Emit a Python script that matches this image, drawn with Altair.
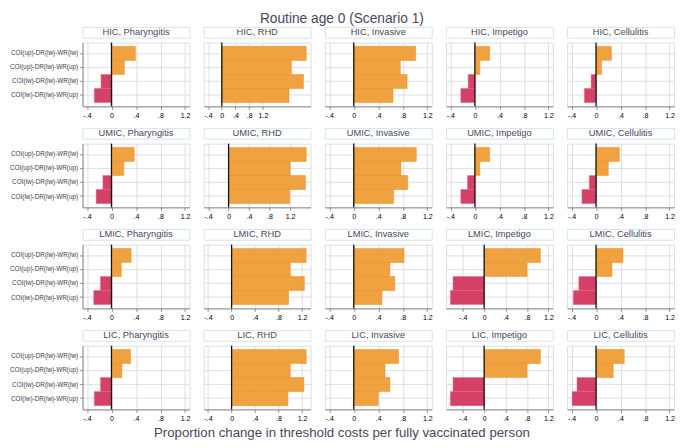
import altair as alt
import pandas as pd

regions = ["HIC", "UMIC", "LMIC", "LIC"]
conditions = ["Pharyngitis", "RHD", "Invasive", "Impetigo", "Cellulitis"]
scenarios = [
    "COI(up)-DR(lw)-WR(lw)",
    "COI(up)-DR(lw)-WR(up)",
    "COI(lw)-DR(lw)-WR(lw)",
    "COI(lw)-DR(lw)-WR(up)",
]
x_ticks = [-0.4, 0.0, 0.4, 0.8, 1.2]

hic_values = {
    "Pharyngitis": [0.39, 0.21, -0.17, -0.28],
    "RHD": [2.46, 2.03, 2.38, 1.96],
    "Invasive": [1.01, 0.76, 0.87, 0.64],
    "Impetigo": [0.24, 0.08, -0.11, -0.23],
    "Cellulitis": [0.25, 0.09, -0.08, -0.19],
}
umic_values = {
    "Pharyngitis": [0.37, 0.20, -0.14, -0.25],
    "RHD": [1.515, 1.20, 1.50, 1.19],
    "Invasive": [1.02, 0.77, 0.88, 0.65],
    "Impetigo": [0.24, 0.08, -0.12, -0.23],
    "Cellulitis": [0.38, 0.20, -0.11, -0.23],
}
lmic_values = {
    "Pharyngitis": [0.32, 0.16, -0.18, -0.29],
    "RHD": [1.27, 1.00, 1.24, 0.97],
    "Invasive": [0.82, 0.59, 0.67, 0.46],
    "Impetigo": [1.05, 0.80, -0.58, -0.63],
    "Cellulitis": [0.44, 0.26, -0.28, -0.37],
}
lic_values = {
    "Pharyngitis": [0.31, 0.17, -0.18, -0.28],
    "RHD": [1.27, 1.00, 1.23, 0.96],
    "Invasive": [0.73, 0.51, 0.59, 0.40],
    "Impetigo": [1.05, 0.80, -0.58, -0.63],
    "Cellulitis": [0.46, 0.28, -0.31, -0.39],
}
all_values = [hic_values, umic_values, lmic_values, lic_values]

ORANGE = "#F09D36"
RED = "#D3365F"
TEXT = "#4a4560"
FONT = "Liberation Sans"
PW, PH, HH = 109, 65, 11

label_expr = ("abs(datum.value) < 1e-9 ? '0' : (datum.value < 0 ? '-' : '') + "
              "replace(format(abs(datum.value), '.1f'), '0.', '.')")

rows = []
for region, vals in zip(regions, all_values):
    panels = []
    for j, cond in enumerate(conditions):
        v = vals[cond]
        df = pd.DataFrame({"scenario": scenarios, "value": v})
        lo = min(-0.4, min(v))
        hi = max(1.2, max(v))
        x = alt.X(
            "value:Q",
            scale=alt.Scale(domain=[lo, hi], nice=False, zero=False, padding=4.5),
            axis=alt.Axis(values=x_ticks, tickCount=20, labelExpr=label_expr, title=None,
                          grid=True, tickSize=3, labelFontSize=7.2, labelPadding=2,
                          labelOverlap=False, labelFlush=False),
        )
        if j == 0:
            yaxis = alt.Axis(title=None, labelFontSize=6.5, labelPadding=2, tickSize=3,
                             domain=True, ticks=True, grid=True, bandPosition=0.5,
                             labelLimit=200, labelColor="#3d3d4a")
        else:
            yaxis = alt.Axis(title=None, labels=False, ticks=False, domain=False,
                             grid=True, bandPosition=0.5)
        y = alt.Y("scenario:N", sort=scenarios,
                  scale=alt.Scale(paddingInner=0, paddingOuter=0.27), axis=yaxis)
        bars = alt.Chart(df).mark_bar(fillOpacity=0.95, strokeWidth=0.7, strokeOpacity=0.7).encode(
            x=x,
            x2=alt.datum(0),
            y=y,
            color=alt.condition("datum.value < 0", alt.value(RED), alt.value(ORANGE)),
            stroke=alt.condition("datum.value < 0", alt.value("#E2628A"), alt.value("#E88A1E")),
        )
        zero = alt.Chart(pd.DataFrame({"zero": [0]})).mark_rule(
            color="#111111", strokeWidth=1.3).encode(x=alt.X("zero:Q"))
        plot = alt.layer(bars, zero).properties(width=PW, height=PH)
        header = alt.Chart(pd.DataFrame({"label": [f"{region}, {cond}"]})).mark_text(
            fontSize=9.5, color=TEXT, font=FONT, baseline="middle", align="center"
        ).encode(text="label:N").properties(
            width=PW, height=HH,
            view=alt.ViewBackground(stroke="#d3e3ee", strokeWidth=1, fill="white"),
        )
        panels.append(alt.vconcat(header, plot, spacing=2).resolve_scale(x="independent", y="independent"))
    rows.append(alt.hconcat(*panels, spacing=12.5).resolve_scale(x="independent", y="independent"))

main = alt.vconcat(
    *rows, spacing=8,
    title=alt.TitleParams("Routine age 0 (Scenario 1)", anchor="middle", fontSize=14,
                          font=FONT, fontWeight="normal", color=TEXT, offset=0),
).resolve_scale(x="independent", y="independent")

chart = alt.vconcat(
    main,
    title=alt.TitleParams("Proportion change in threshold costs per fully vaccinated person",
                          orient="bottom", anchor="middle", fontSize=13.5, font=FONT,
                          fontWeight="normal", color=TEXT, offset=4),
).properties(padding=0).configure_view(stroke="transparent").configure_axis(
    gridColor="#e9eff5", gridWidth=0.8, domainColor="#8f89a3", tickColor="#8f89a3",
    labelColor="#4f4f5f", labelFont=FONT, domainWidth=1, labelOverlap=False,
).configure(background="white")

chart.save("out.html", embed_options={"renderer": "svg", "actions": False})
